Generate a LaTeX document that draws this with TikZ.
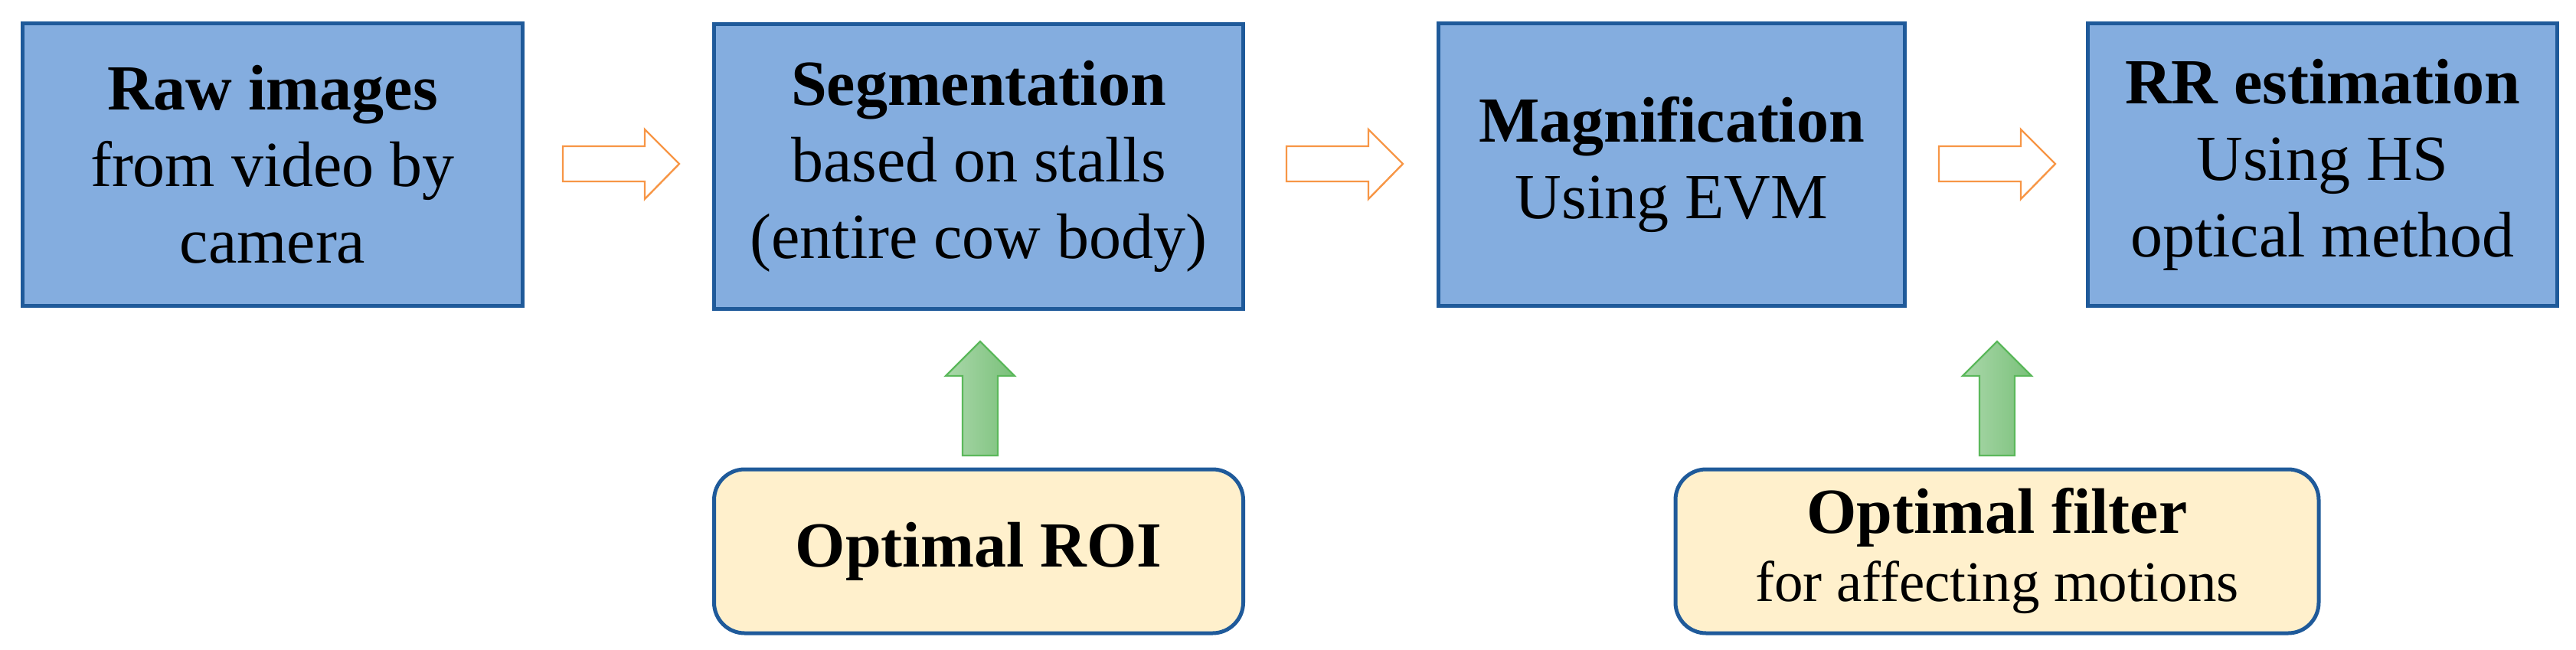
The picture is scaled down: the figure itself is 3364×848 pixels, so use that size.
\documentclass[tikz,border=0pt]{standalone}
\usepackage{fontspec}
\setmainfont{Liberation Serif}
\definecolor{bfill}{HTML}{84ADDF}
\definecolor{bdraw}{HTML}{1F5A9A}
\definecolor{yfill}{HTML}{FFF0CC}
\definecolor{orng}{HTML}{F79646}
\definecolor{gdraw}{HTML}{5BB85B}
\definecolor{gfill}{HTML}{96CE96}
\begin{document}
\begin{tikzpicture}[x=0.5pt,y=-0.5pt,
  blue/.style={draw=bdraw,line width=2.5pt,fill=bfill,align=center,inner sep=0pt,
    font=\fontsize{42}{50}\selectfont},
  yel/.style={draw=bdraw,line width=2.5pt,fill=yfill,rounded corners=20pt,align=center,inner sep=0pt},
  oarr/.style={draw=orng,line width=1.2pt,fill=white},
  garr/.style={draw=gdraw,line width=1.2pt,left color=gfill!80!white,right color=gfill!90!black!90!green}]
\useasboundingbox (0,0) rectangle (3364,848);
\node[blue,minimum width=326.5pt,minimum height=184.5pt] (a) at (356,215) {\textbf{Raw images}\\from video by\\camera};
\node[blue,minimum width=345.5pt,minimum height=186pt] (b) at (1278,217) {\textbf{Segmentation}\\based on stalls\\(entire cow body)};
\node[blue,minimum width=304.5pt,minimum height=184.5pt] (c) at (2183,215) {\textbf{Magnification}\\Using EVM};
\node[blue,minimum width=306.5pt,minimum height=184.5pt] (d) at (3033,215) {\textbf{RR estimation}\\Using HS\\optical method};
\node[yel,minimum width=345.5pt,minimum height=107pt,font=\fontsize{42}{50}\selectfont] (e) at (1278,720) {\textbf{Optimal ROI}};
\node[yel,minimum width=420pt,minimum height=107pt,font=\fontsize{37.5}{44.5}\selectfont] (f) at (2608,720) {\textbf{\fontsize{42}{50}\selectfont Optimal filter}\\for affecting motions};
% orange block arrows
\foreach \s/\n in {735/o1,1680/o2,2532/o3}{
  \draw[oarr] (\s,191) -- ++(107,0) -- ++(0,-22) -- ++(45,45) -- ++(-45,46) -- ++(0,-23) -- ++(-107,0) -- cycle;
}
% green block arrows
\foreach \c in {1280,2608}{
  \draw[garr] (\c-23,595) -- (\c-23,491) -- (\c-45,491) -- (\c,446) -- (\c+45,491) -- (\c+23,491) -- (\c+23,595) -- cycle;
}
\end{tikzpicture}
\end{document}
